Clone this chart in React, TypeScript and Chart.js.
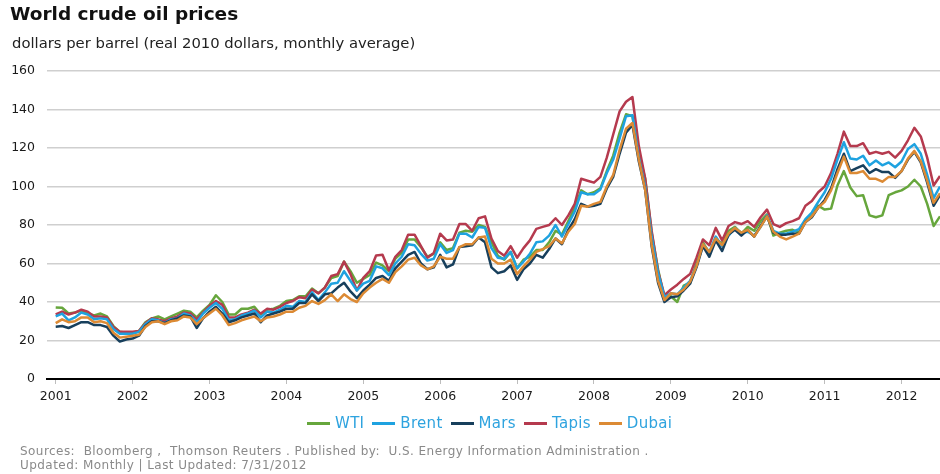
import React, { useEffect, useRef } from "react";
import { Chart, registerables } from "chart.js";

Chart.register(...registerables);

const FONT = '"DejaVu Sans", "Liberation Sans", Arial, sans-serif';

const yearLabels = ["2001", "2002", "2003", "2004", "2005", "2006", "2007", "2008", "2009", "2010", "2011", "2012"];
const seriesNames = ["WTI", "Brent", "Mars", "Tapis", "Dubai"];
const seriesColors = ["#66a63c", "#1ea2e0", "#173f5c", "#b53a4e", "#dc8a34"];

// monthly values, Jan 2001 .. Jul 2012 (real 2010 dollars)
const wti = [
  37.2, 37, 34, 34.5, 35.5, 34, 33, 34, 32.5, 27.5, 24.5, 24,
  24, 25, 29.5, 31.5, 32.5, 31, 32.5, 34, 35.5, 35, 32, 35.5,
  38.5, 43.5, 40, 33.5, 33.5, 36.5, 36.5, 37.5, 33.5, 36, 36.5, 38,
  40.5, 41, 43, 43, 47, 44.5, 47.5, 52.5, 53.5, 61, 56, 50,
  52, 54, 60.5, 59, 56, 62.5, 65.5, 72.5, 72.5, 68.5, 63.5, 65,
  71, 67, 68, 76, 77, 76.5, 80, 79, 71, 64, 62, 66,
  57.5, 62, 63.5, 67, 67, 71, 77, 75, 82, 89, 98, 96,
  97, 99, 108, 116, 128, 137.5, 136.5, 117, 104, 76, 57, 42,
  43, 40, 48.5, 50, 60, 71, 65.5, 72.5, 70.5, 77, 79, 75.5,
  79, 77, 82, 85.5, 74.5, 76, 77, 77.5, 76, 82.5, 85, 90,
  88, 88.5, 100.5, 108, 99.5, 95, 95.5, 85, 84, 85, 95.5, 97,
  98, 100, 103.5, 100, 91, 79.5, 84.5,
];
const brent = [
  32.5, 34, 30.5, 32, 34.5, 33.5, 31, 31.5, 31, 26, 23.5, 23.5,
  23.5, 24.5, 28.5, 31, 30.5, 29, 31, 31.5, 34, 33, 29.5, 34,
  37, 39.5, 36.5, 30.5, 31, 33, 34, 35.5, 32, 35, 34.5, 36,
  38, 37.5, 40.5, 40, 45, 41, 45, 49.5, 50, 56, 51, 46,
  49.5, 51, 58.5, 57.5, 54, 60, 63.5, 70, 69.5, 65, 61.5, 62.5,
  70, 65.5, 67, 75.5, 75.5, 73.5, 79, 78.5, 68, 63, 62.5, 66,
  57.5, 61, 65, 71, 71.5, 74.5, 80, 74, 80.5, 87, 97, 96,
  96, 98.5, 107, 114, 125, 136.5, 137, 115, 100, 74, 55, 42.5,
  44.5, 44, 47.5, 51, 58.5, 70, 66, 74, 69, 74.5, 78.5, 76,
  76.5, 74.5, 79, 85, 77, 75.5, 75.5, 76.5, 77.8, 83, 86.5, 92,
  97, 104, 114, 123, 114.5, 114, 116, 111, 113.5, 111, 112.5, 110,
  113, 119.5, 122, 117, 106, 94, 100,
];
const mars = [
  27.2, 27.5, 26.5, 28, 29.5, 29.5, 28, 28, 27, 22.5, 19.5, 20.5,
  21, 22.5, 27.5, 30, 30, 29, 30.5, 31.5, 33, 32.5, 26.5, 31.5,
  35, 37.5, 34, 29.5, 30.5, 32, 33, 34, 29.5, 33, 34, 35,
  36.5, 36.5, 39.5, 39.5, 44, 40.5, 44, 44.5, 47.5, 50, 45.5, 42,
  46, 49, 52.5, 53.5, 51, 57.5, 61, 64.5, 66, 60, 57, 58,
  64.5, 58, 59.5, 68.5, 69, 69.5, 73.5, 71, 58, 55, 56, 59,
  51.5, 57, 60, 64.5, 63, 67.5, 73, 70, 77.5, 83, 91, 89.5,
  90, 91, 99, 105, 117, 128, 132, 113, 98, 69, 50, 40,
  42.5, 43, 46, 49.5, 58, 69, 63.5, 72, 66.5, 75, 77.5, 74.5,
  77.5, 74, 79.5, 84.5, 76, 75, 75, 75.5, 75.5, 81.5, 84, 89,
  93, 99, 109, 117, 108, 109.5, 111, 107, 109, 107.5, 107.5, 104.5,
  108, 114, 118, 112.5, 102, 90, 95.5,
];
const tapis = [
  33.5, 35, 33.5, 34.5, 36, 35, 32.5, 32.5, 32, 27, 24.5, 24.5,
  24.5, 25, 29, 31.5, 31, 30, 31.5, 32.5, 34.5, 34, 31, 34.5,
  38, 40.5, 38.5, 32, 32, 33.5, 34.5, 36, 34, 36.5, 36, 37.5,
  39.5, 40.5, 42.5, 42, 46.5, 44.5, 47.5, 53.5, 54.5, 61, 54.5, 46,
  52.5, 56, 64.2, 64.5, 56.5, 63.5, 67, 75, 75, 69, 63, 65.5,
  75.5, 72, 72.5, 80.5, 80.5, 77, 83.5, 84.5, 73, 66.5, 64, 69,
  63, 68, 72, 78, 79, 80, 83.5, 80, 85, 91, 104, 103,
  102, 105, 115, 127, 139, 144, 146.5, 121, 104, 77, 56, 43.5,
  46.5, 49, 52, 54.5, 63, 72.5, 69.5, 78.5, 72, 79.5, 81.5, 80.5,
  82, 79, 84, 88, 80.5, 79, 81, 82, 83.5, 90, 92.5, 97,
  100, 107, 117, 128.5, 121, 121, 122.5, 117, 118, 117, 118, 115,
  118.5, 124, 130.5, 126, 115, 100.5, 105.5,
];
const dubai = [
  29, 31, 29.5, 30, 32, 32, 29.5, 30, 29, 24, 21.5, 22,
  22.5, 23, 27, 29.5, 30, 28.5, 30, 30.5, 32.5, 32, 28.5, 31.5,
  34, 36.5, 33, 28, 29, 30.5, 31.5, 32.5, 30, 32, 32.5, 33.5,
  35, 35, 37, 38, 40.5, 39, 41, 44, 40.5, 44, 41.5, 40,
  44.5, 47.5, 50, 52, 50, 55.5, 58.5, 62, 63, 59, 57, 58.5,
  63.5, 62.5, 62.5, 68.5, 70, 70, 73.5, 74, 62.5, 60, 60, 62,
  54.5, 58.5, 62, 66, 67.5, 69, 73, 70.5, 76.5, 80.5, 90, 89.5,
  91, 92, 100, 106, 119, 130, 133, 114, 98, 70, 51, 41,
  44.5, 44, 46.5, 50.5, 58.5, 70, 66, 73, 69.5, 75.5, 78.5, 76,
  77.5, 74, 79, 84.5, 76.5, 74, 72.5, 74, 75.5, 81.5, 84.5, 89,
  92, 98, 107, 115.5, 107, 107, 108, 104, 104, 102.5, 105, 105,
  108, 114.5, 118.5, 113, 103, 91.5, 96.5,
];

const seriesValues = [wti, brent, mars, tapis, dubai];
// drawing weight: higher drawn first (underneath)
const seriesOrder = [5, 3, 2, 4, 1];

export default function App() {
  const ref = useRef<HTMLCanvasElement | null>(null);

  useEffect(() => {
    const canvas = ref.current;
    if (!canvas) return;
    const toPoints = (arr: number[]) => arr.map((v, i) => ({ x: i, y: v }));
    const chart = new Chart(canvas, {
      type: "line",
      data: {
        datasets: seriesNames.map((name, k) => ({
          label: name,
          data: toPoints(seriesValues[k]),
          borderColor: seriesColors[k],
          backgroundColor: seriesColors[k],
          borderWidth: 2.5,
          pointRadius: 0,
          fill: false,
          tension: 0,
          borderJoinStyle: "round" as const,
          order: seriesOrder[k],
        })),
      },
      options: {
        animation: false,
        responsive: false,
        devicePixelRatio: 1,
        layout: { padding: { top: 71, bottom: 65, left: 0, right: 0 } },
        plugins: {
          legend: { display: false },
          tooltip: { enabled: false },
          title: { display: false },
        },
        scales: {
          x: {
            type: "linear",
            min: -1.36,
            max: 138,
            afterBuildTicks: (axis: any) => {
              axis.ticks = yearLabels.map((_, k) => ({ value: k * 12 }));
            },
            afterFit: (axis: any) => {
              axis.height = 30;
            },
            ticks: {
              autoSkip: false,
              maxRotation: 0,
              padding: 5,
              color: "#1a1a1a",
              font: { family: FONT, size: 12.5 },
              callback: (v: any) => yearLabels[Math.round(Number(v) / 12)] ?? "",
            },
            grid: {
              display: true,
              drawOnChartArea: false,
              drawTicks: true,
              tickLength: 5,
              color: "#bdbdbd",
              lineWidth: 1,
            },
            border: { display: true, color: "#000000", width: 2 },
          },
          y: {
            min: 0,
            max: 160,
            afterFit: (axis: any) => {
              axis.width = 47;
            },
            ticks: {
              stepSize: 20,
              padding: 12,
              color: "#1a1a1a",
              font: { family: FONT, size: 12.5 },
            },
            grid: {
              drawTicks: false,
              lineWidth: 1.5,
              color: (c: any) => (c.tick && c.tick.value === 0 ? "rgba(0,0,0,0)" : "#cfcfcf"),
            },
            border: { display: false },
          },
        },
      },
    });
    return () => chart.destroy();
  }, []);

  return (
    <div
      style={{
        position: "fixed",
        left: 0,
        top: 0,
        width: 940,
        height: 474,
        overflow: "hidden",
        background: "#ffffff",
        fontFamily: FONT,
      }}
    >
      <canvas ref={ref} width={940} height={474} style={{ position: "absolute", left: 0, top: 0 }} />
      <div
        style={{
          position: "absolute",
          left: 10,
          top: 5,
          fontSize: 18.5,
          lineHeight: 1,
          fontWeight: "bold",
          color: "#111",
          whiteSpace: "nowrap",
        }}
      >
        World crude oil prices
      </div>
      <div
        style={{
          position: "absolute",
          left: 12,
          top: 36,
          fontSize: 14.8,
          lineHeight: 1,
          color: "#222",
          whiteSpace: "nowrap",
        }}
      >
        dollars per barrel (real 2010 dollars, monthly average)
      </div>
      <div
        style={{
          position: "absolute",
          left: 307,
          top: 416,
          height: 15,
          display: "flex",
          alignItems: "center",
          fontSize: 15,
          lineHeight: 1,
          letterSpacing: "0.3px",
          color: "#2ea3df",
          whiteSpace: "nowrap",
        }}
      >
        {seriesNames.map((name, k) => (
          <div key={name} style={{ display: "flex", alignItems: "center", marginRight: 8 }}>
            <span
              style={{
                display: "inline-block",
                width: 23,
                height: 3,
                background: seriesColors[k],
                marginRight: 5,
              }}
            />
            <span>{name}</span>
          </div>
        ))}
      </div>
      <div
        style={{
          position: "absolute",
          left: 20,
          top: 445,
          fontSize: 12,
          lineHeight: 1,
          letterSpacing: "0.45px",
          color: "#8a8a8a",
          whiteSpace: "pre",
        }}
      >
        {"Sources:  Bloomberg ,  Thomson Reuters . Published by:  U.S. Energy Information Administration ."}
      </div>
      <div
        style={{
          position: "absolute",
          left: 20,
          top: 459,
          fontSize: 12,
          lineHeight: 1,
          letterSpacing: "0.45px",
          color: "#8a8a8a",
          whiteSpace: "pre",
        }}
      >
        {"Updated: Monthly | Last Updated: 7/31/2012"}
      </div>
    </div>
  );
}
